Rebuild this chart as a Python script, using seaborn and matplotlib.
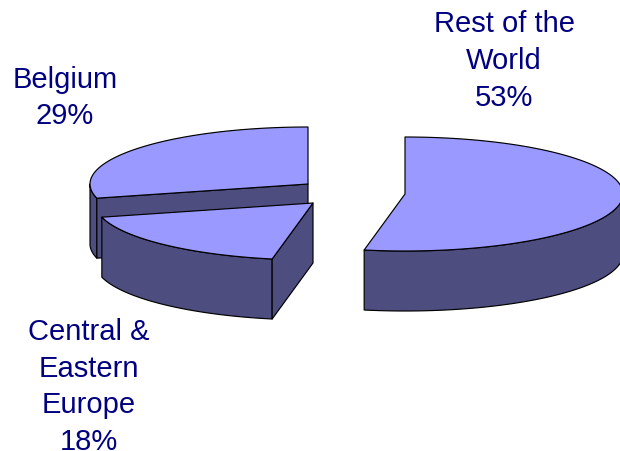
import numpy as np
import matplotlib
matplotlib.use("Agg")
import matplotlib.pyplot as plt
import seaborn as sns

# Data
categories = ["Rest of the\nWorld", "Central &\nEastern\nEurope", "Belgium"]
shares = [53, 18, 29]

# Style / layout (pixel space of the 620x452 figure)
apex_x = [405, 313, 308]
apex_y = [195, 204, 185]
rim_x = 218
rim_y = 57
depth = 60
top_colour = "#9999FF"
side_colour = "#4D4D80"
text_colour = "#000080"
label_x = [504, 89, 65]
label_y = [61, 387, 98]

sns.set_theme(style="white")
plt.rcParams["font.family"] = ["Liberation Sans", "DejaVu Sans"]

fig = plt.figure(figsize=(6.2, 4.52), dpi=100)
ax = fig.add_axes([0, 0, 1, 1])
ax.set_xlim(0, 620)
ax.set_ylim(452, 0)
ax.axis("off")

edges = np.concatenate([[0], np.cumsum(shares)]) / np.sum(shares) * 2 * np.pi


def rim(i, a, b):
    t = np.linspace(a, b, max(int(abs(b - a) * 60), 2))
    return apex_x[i] + rim_x * np.sin(t), apex_y[i] - rim_y * np.cos(t)


def face(xs, ys, colour, z):
    ax.fill(xs, ys, facecolor=colour, edgecolor="black", linewidth=0.85,
            joinstyle="round", zorder=z)


# Draw slices back to front: Belgium, Central & Eastern Europe, Rest of the World
for z, i in enumerate([2, 1, 0]):
    a, b = edges[i], edges[i + 1]
    px, py = apex_x[i], apex_y[i]
    sx, sy = rim(i, a, a + 1e-6)

    # Front wall: the rim part between 90 and 270 degrees
    lo, hi = max(a, np.pi / 2), min(b, 3 * np.pi / 2)
    if hi > lo:
        wx, wy = rim(i, lo, hi)
        face(np.r_[wx, wx[::-1]], np.r_[wy, wy[::-1] + depth], side_colour, 10 * z + 2)

    # Cut face at the start angle (hidden for the slice that starts at the top)
    if i > 0:
        face([px, sx[0], sx[0], px], [py, sy[0], sy[0] + depth, py + depth],
             side_colour, 10 * z + 3)

    # Top face
    tx, ty = rim(i, a, b)
    face(np.r_[px, tx], np.r_[py, ty], top_colour, 10 * z + 5)

# Labels
for name, share, x, y in zip(categories, shares, label_x, label_y):
    ax.text(x, y, f"{name}\n{share}%", ha="center", va="center", color=text_colour,
            fontsize=21, linespacing=1.40, zorder=100)

fig.savefig("out.png", dpi=100)
